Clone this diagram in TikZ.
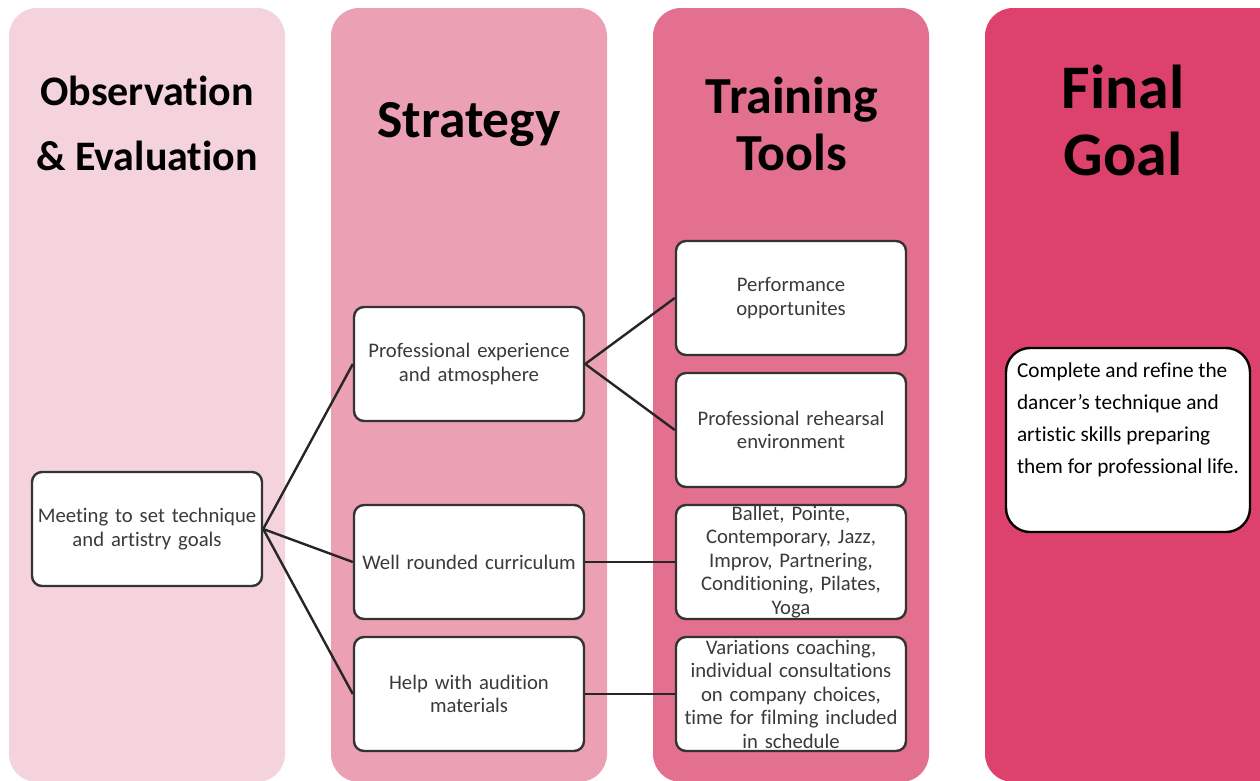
\documentclass[tikz,border=0pt]{standalone}
\usepackage{fontspec}
\setmainfont{Carlito}[Ligatures=NoCommon]
\usetikzlibrary{calc}
\definecolor{colA}{HTML}{F5D3DD}
\definecolor{colB}{HTML}{ECA0B3}
\definecolor{colC}{HTML}{E2708E}
\definecolor{colD}{HTML}{DC426C}
\definecolor{boxline}{HTML}{333333}
\definecolor{boxtext}{HTML}{3A3A3A}
\tikzset{
  column/.style={rounded corners=28pt},
  head/.style={font=\bfseries, align=center, text=black, inner sep=0},
  box/.style={draw=boxline, fill=white, line width=2.4pt, rounded corners=10pt,
    minimum width=230pt, minimum height=114pt, inner sep=0pt, text width=226pt,
    align=center, text=boxtext, font=\fontsize{20.7}{23.5}\selectfont},
  link/.style={draw=black!85, line width=2.4pt},
}
\begin{document}
\begin{tikzpicture}[x=1pt,y=-1pt]
\useasboundingbox (0,0) rectangle (1260,780);
% columns
\fill[colA, column] (9,8) rectangle (285,782);
\fill[colB, column] (331,8) rectangle (607,782);
\fill[colC, column] (653,8) rectangle (929,782);
\fill[colD, column] (985,8) rectangle (1290,782);
% headings
\node[head, font=\fontsize{42}{65}\selectfont\bfseries] (h1) at (147,123.5) {Observation\\\& Evaluation};
\node[head, font=\fontsize{53.5}{60}\selectfont\bfseries] (h2) at (469,124) {Strategy};
\node[head, font=\fontsize{52}{57}\selectfont\bfseries] (h3) at (792,124) {Training\\Tools};
\node[head, font=\fontsize{62}{67}\selectfont\bfseries] (h4) at (1123,120) {Final\\Goal};
% boxes
\node[box] (meet) at (147,529) {Meeting to set technique\\and artistry goals};
\node[box] (prof) at (469,364) {Professional experience\\and atmosphere};
\node[box] (well) at (469,562) {Well rounded curriculum};
\node[box] (help) at (469,694) {Help with audition\\materials};
\node[box] (perf) at (791,298) {Performance\\opportunites};
\node[box] (reh) at (791,430) {Professional rehearsal\\environment};
\node[box] (ballet) at (791,562) {Ballet, Pointe,\\Contemporary, Jazz,\\Improv, Partnering,\\Conditioning, Pilates,\\Yoga};
\node[box] (var) at (791,694) {Variations coaching,\\individual consultations\\on company choices,\\time for filming included\\in schedule};
\node[draw=black, fill=white, line width=2.4pt, rounded corners=24pt, minimum width=244pt, minimum height=184pt, inner sep=0pt] (final) at (1128,440) {};
\node[anchor=north west, align=left, text=black, inner sep=0pt, font=\fontsize{21.3}{32}\selectfont] (finaltxt) at ($(final.north west)+(12,16)$) {Complete and refine the\\dancer’s technique and\\artistic skills preparing\\them for professional life.};
% connectors
\draw[link] (meet.east) -- (prof.west);
\draw[link] (meet.east) -- (well.west);
\draw[link] (meet.east) -- (help.west);
\draw[link] (prof.east) -- (perf.west);
\draw[link] (prof.east) -- (reh.west);
\draw[link] (well.east) -- (ballet.west);
\draw[link] (help.east) -- (var.west);
\end{tikzpicture}
\end{document}
